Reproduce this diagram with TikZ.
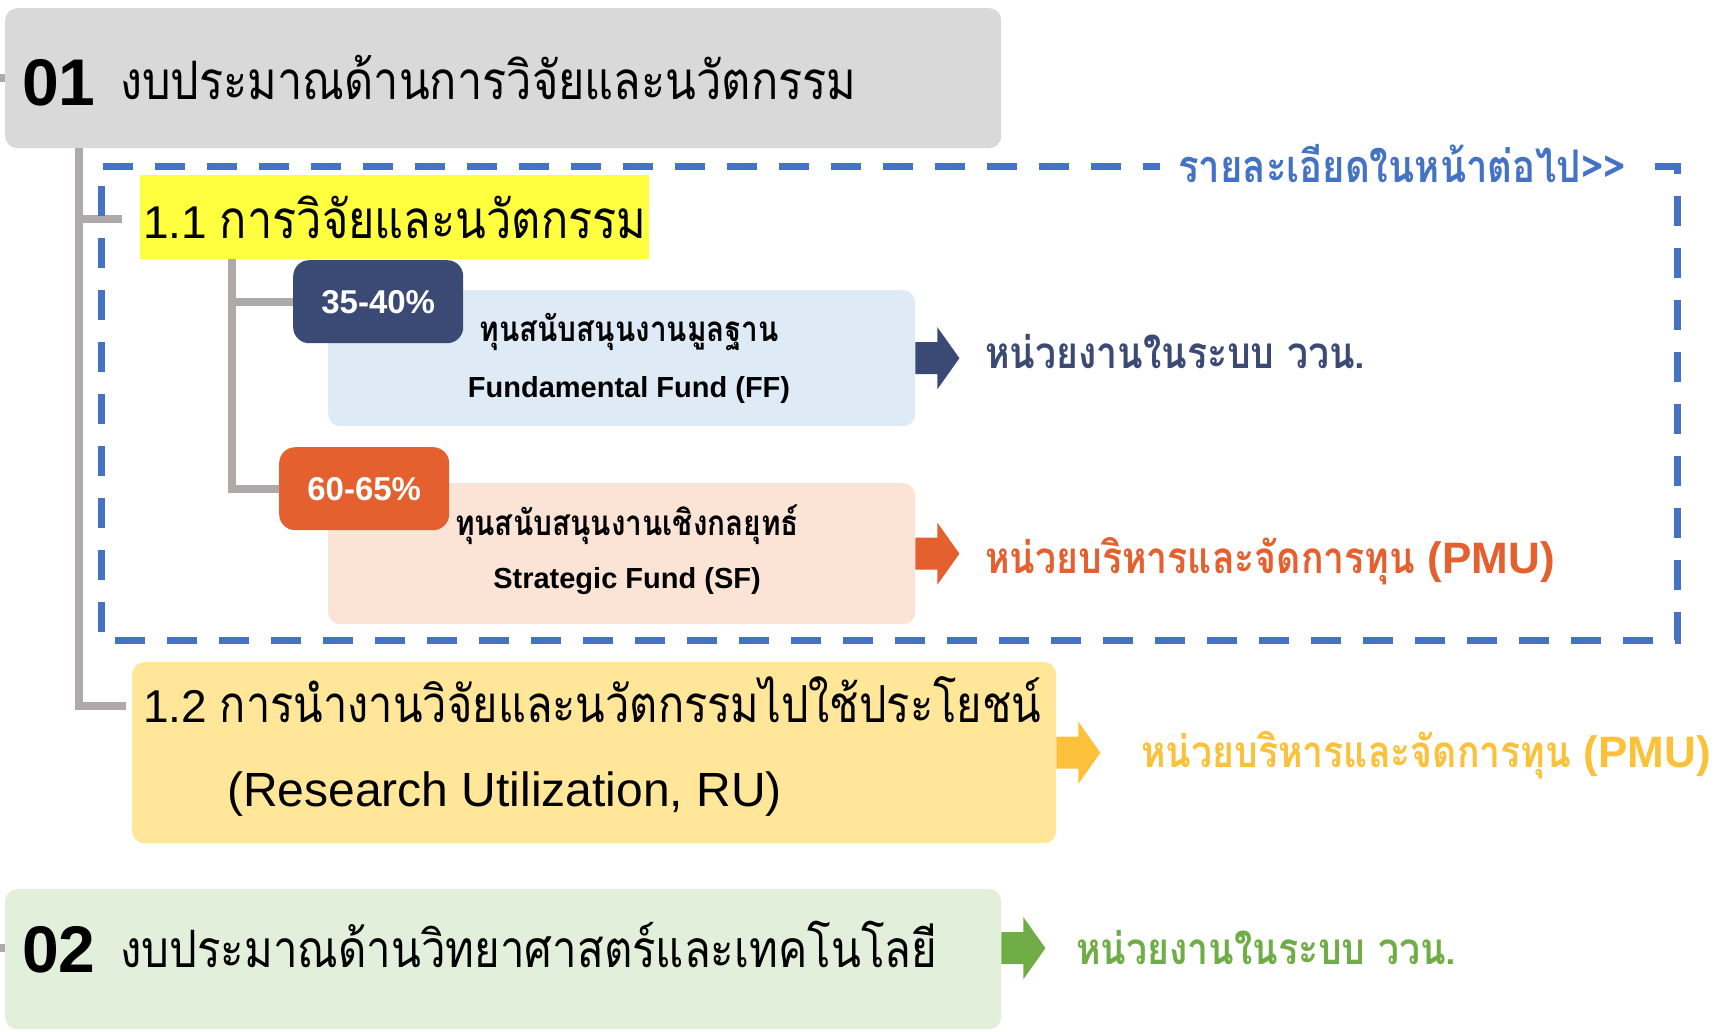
\documentclass[tikz,border=0pt]{standalone}
\usepackage{fontspec}
\setmainfont{Liberation Sans}
\newfontfamily\thai[Script=Thai,FakeStretch=0.85]{Loma}
\usetikzlibrary{calc}

\definecolor{boxgrey}{HTML}{D9D9D9}
\definecolor{branchgrey}{HTML}{AEAAAA}
\definecolor{hiyellow}{HTML}{FFFF40}
\definecolor{ffblue}{HTML}{DEEBF7}
\definecolor{navy}{HTML}{3B4A74}
\definecolor{sfpeach}{HTML}{FBE4D6}
\definecolor{pmuorange}{HTML}{E5602F}
\definecolor{rubeige}{HTML}{FFE699}
\definecolor{rugold}{HTML}{FBC13A}
\definecolor{sciengreen}{HTML}{E2EFDA}
\definecolor{unitgreen}{HTML}{70AD47}
\definecolor{dashblue}{HTML}{4472C4}

\newcommand\sz[1]{\fontsize{#1}{#1}\selectfont}
% block arrow pointing right from #2
\newcommand\fatarrow[2]{\fill[#1] ($(#2)+(0,-16)$) -- ++(22,0) -- ++(0,-15) -- ++(22,31) -- ++(-22,31) -- ++(0,-15) -- ++(-22,0) -- cycle;}

\begin{document}
\begin{tikzpicture}[x=1pt,y=-1pt,
  box/.style={rectangle, rounded corners=12pt, anchor=north west, inner sep=0pt},
  badge/.style={box, rounded corners=16pt, minimum width=170, minimum height=83, text=white, font=\sz{33}\bfseries},
  txt/.style={anchor=base west, inner sep=0pt},
  branch/.style={line width=8pt, draw=branchgrey},
  unit/.style={anchor=west, inner sep=0pt, font=\thai\sz{44}\bfseries}]
\useasboundingbox (0,0) rectangle (1716,1031);

% 01
\node[box, fill=boxgrey, minimum width=996, minimum height=140] (t01) at (5,8) {};
\node[txt, font=\sz{66}\bfseries] (n01) at (22,105) {01};
\node[txt, font=\thai\sz{53}] (h01) at (120,99) {งบประมาณด้านการวิจัยและนวัตกรรม};

% 1.1
\node[box, rounded corners=0pt, fill=hiyellow, minimum width=509, minimum height=84] (t11) at (140,175) {};
\node[txt, font=\sz{46}] (h11) at (143,238) {1.1 {\thai\sz{53}การวิจัยและนวัตกรรม}};

\node[box, fill=ffblue, minimum width=587, minimum height=136] (ff) at (328,290) {};
\node[badge, fill=navy] (ffpct) at (293,260) {35-40\%};
\node[font=\thai\sz{35}\bfseries] (ffth) at (629,332) {ทุนสนับสนุนงานมูลฐาน};
\node[font=\sz{29}\bfseries] (ffen) at (629,390) {Fundamental Fund (FF)};

\node[box, fill=sfpeach, minimum width=587, minimum height=141] (sf) at (328,483) {};
\node[badge, fill=pmuorange] (sfpct) at (279,447) {60-65\%};
\node[font=\thai\sz{35}\bfseries] (sfth) at (627,525) {ทุนสนับสนุนงานเชิงกลยุทธ์};
\node[font=\sz{29}\bfseries] (sfen) at (627,581) {Strategic Fund (SF)};

% 1.2
\node[box, fill=rubeige, minimum width=924, minimum height=181] (ru) at (132,662) {};
\node[txt, font=\sz{46}] (h12) at (143,722) {1.2 {\thai\sz{51}การนำงานวิจัยและนวัตกรรมไปใช้ประโยชน์}};
\node[txt, font=\sz{48}] (h12en) at (227,806) {(Research Utilization, RU)};

% 02
\node[box, fill=sciengreen, minimum width=996, minimum height=140] (t02) at (5,889) {};
\node[txt, font=\sz{66}\bfseries] (n02) at (22,972) {02};
\node[txt, font=\thai\sz{51.5}] (h02) at (120,967) {งบประมาณด้านวิทยาศาสตร์และเทคโนโลยี};

% branches
\coordinate (k11) at (122,219);
\coordinate (k12) at (126,706);
\draw[branch] ([xshift=74pt]t01.south west) |- (k11);
\draw[branch] ([xshift=74pt]t01.south west) |- (k12);
\draw[branch] ([xshift=92pt]t11.south west) |- (ffpct.west);
\draw[branch] ([xshift=92pt]t11.south west) |- (sfpct.west);
\draw[branch] (t01.west) -- ++(-6,0);
\draw[branch] ([yshift=11pt]t02.west) -- ++(-6,0);

% dashed frame, open where the note sits
\draw[dashblue, line width=7pt, dash pattern=on 30pt off 22pt] (1655,166) -- (1677,166) -- (1677,640) -- (101,640) -- (101,166) -- (1160,166);
\node[inner sep=0pt, text=dashblue, font=\thai\sz{45}\bfseries] (more) at (1402,164) {รายละเอียดในหน้าต่อไป>>};

% units
\fatarrow{navy}{ff.east}
\node[unit, text=navy] (u1) at (985,352) {หน่วยงานในระบบ ววน.};
\fatarrow{pmuorange}{sf.east}
\node[unit, text=pmuorange] (u2) at (985,561) {หน่วยบริหารและจัดการทุน {\rmfamily (PMU)}};
\fatarrow{rugold}{ru.east}
\node[unit, text=rugold] (u3) at (1141,755) {หน่วยบริหารและจัดการทุน {\rmfamily (PMU)}};
\fatarrow{unitgreen}{[yshift=11pt]t02.east}
\node[unit, text=unitgreen] (u4) at (1076,948) {หน่วยงานในระบบ ววน.};
\end{tikzpicture}
\end{document}
